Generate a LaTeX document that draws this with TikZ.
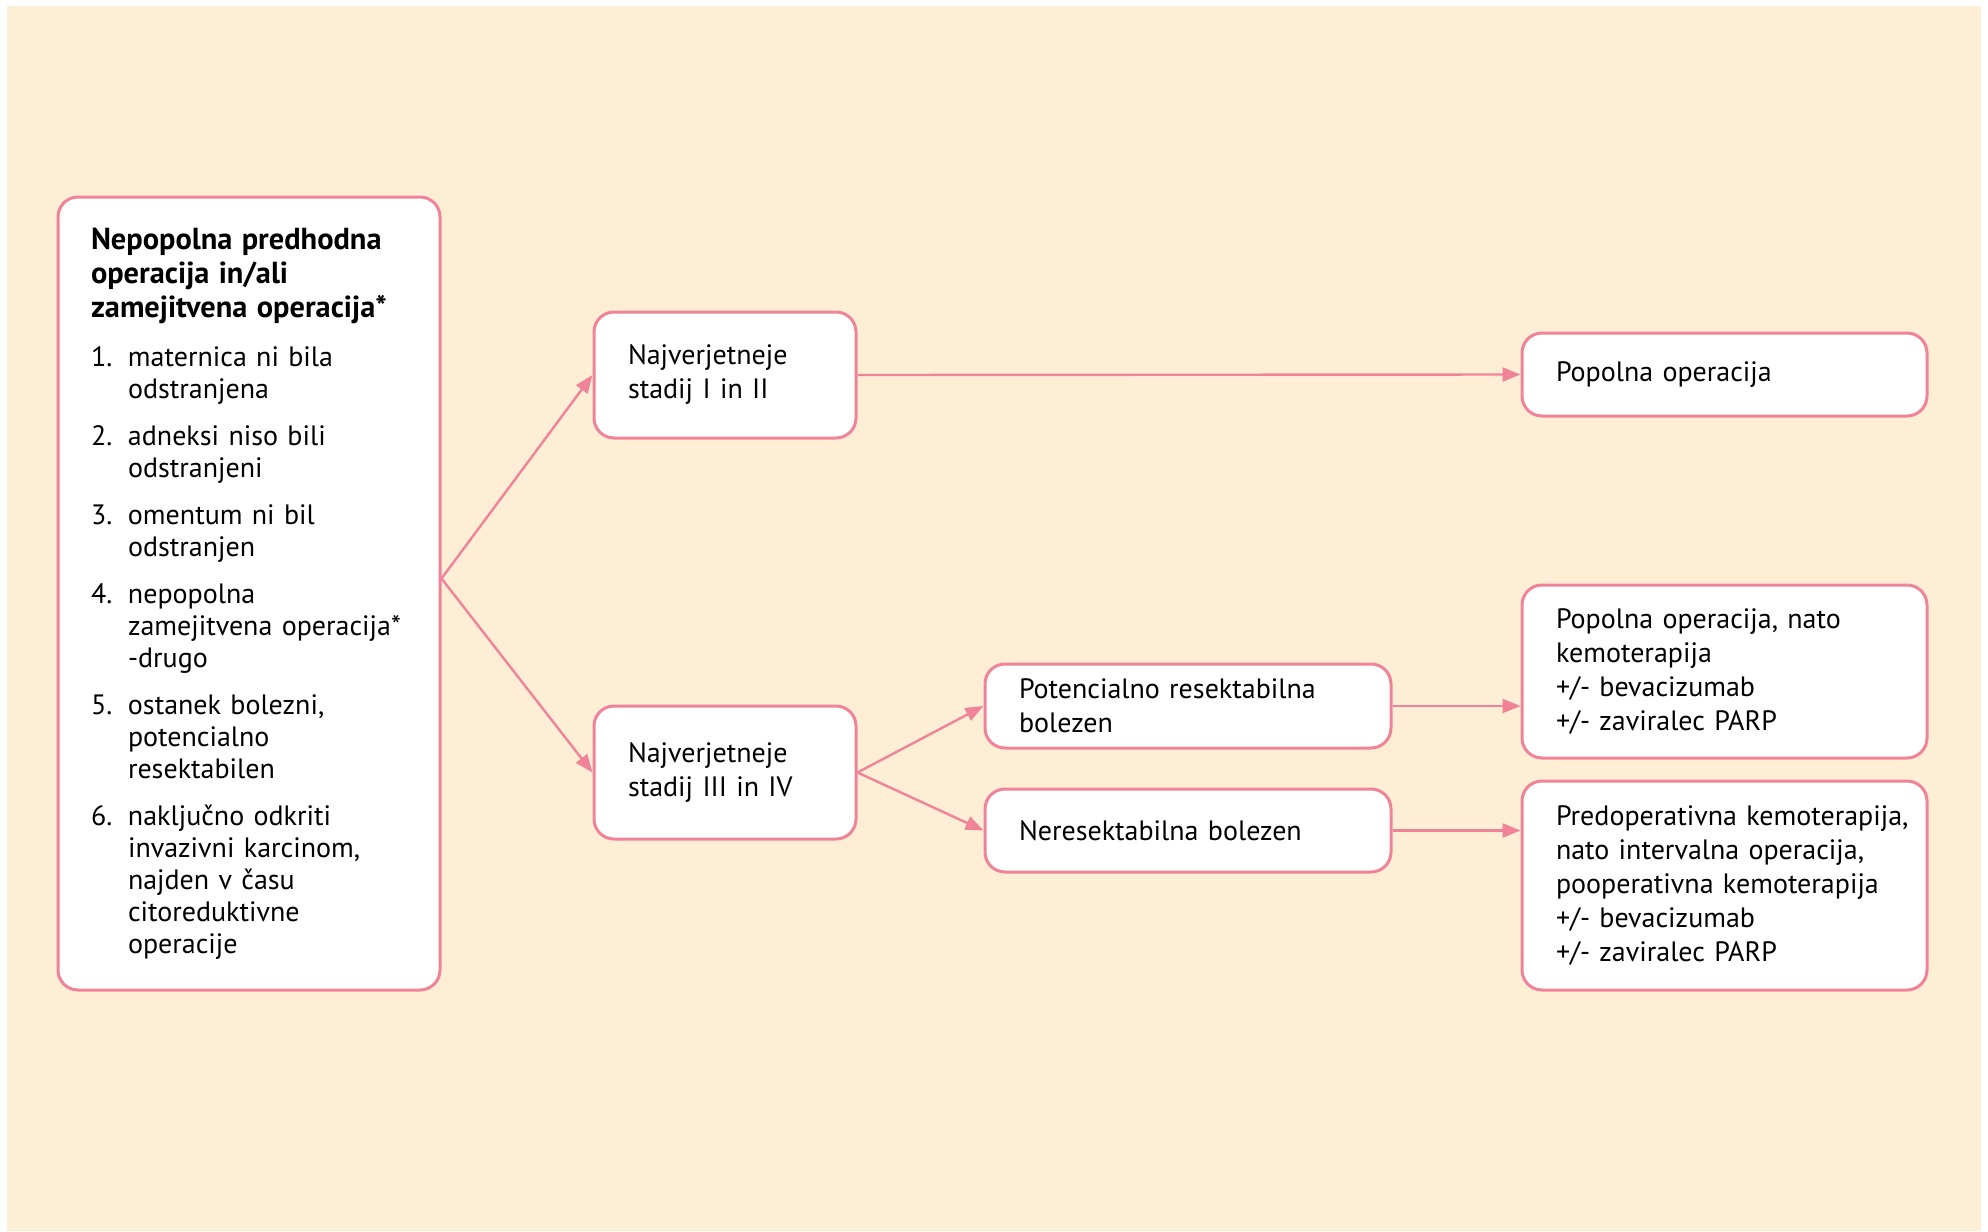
\documentclass[tikz,border=0pt]{standalone}
\usepackage{fontspec}
\setmainfont{PT Sans}
\usetikzlibrary{arrows.meta}
\definecolor{flowbg}{RGB}{255,238,214}
\definecolor{flowpink}{RGB}{240,131,152}

\begin{document}
\begin{tikzpicture}[x=0.5pt,y=-0.5pt,
  box/.style={draw=flowpink,line width=1.5pt,fill=white,rounded corners=10pt,
    align=left,inner xsep=17pt,inner ysep=0pt,
    font=\fontsize{14}{17}\selectfont},
  link/.style={flowpink,line width=1.2pt,-{Triangle[length=9pt,width=7pt]}}]
  \useasboundingbox (0,0) rectangle (1988,1232);
  \fill[flowbg] (7,6) rectangle (1981,1231);
  % left column
  \node[box,minimum width=191pt,minimum height=396.5pt,text width=158pt,
    inner xsep=16pt,font=\fontsize{14}{16}\selectfont] (src) at (249,593.5)
    {{\fontsize{15.2}{16}\selectfont\bfseries Nepopolna predhodna}\\[1pt]
     {\fontsize{15.2}{16}\selectfont\bfseries operacija in/ali}\\[1pt]
     {\fontsize{15.2}{16}\selectfont\bfseries \mbox{zamejitvena operacija*}}\\[8.5pt]
     \makebox[18.5pt][l]{1.}maternica ni bila\\
     \hspace*{18.5pt}odstranjena\\[7.5pt]
     \makebox[18.5pt][l]{2.}adneksi niso bili\\
     \hspace*{18.5pt}odstranjeni\\[7.5pt]
     \makebox[18.5pt][l]{3.}omentum ni bil\\
     \hspace*{18.5pt}odstranjen\\[7.5pt]
     \makebox[18.5pt][l]{4.}nepopolna\\
     \hspace*{18.5pt}\mbox{zamejitvena operacija*}\\
     \hspace*{18.5pt}-drugo\\[7.5pt]
     \makebox[18.5pt][l]{5.}ostanek bolezni,\\
     \hspace*{18.5pt}potencialno\\
     \hspace*{18.5pt}resektabilen\\[7.5pt]
     \makebox[18.5pt][l]{6.}naključno odkriti\\
     \hspace*{18.5pt}invazivni karcinom,\\
     \hspace*{18.5pt}najden v času\\
     \hspace*{18.5pt}citoreduktivne\\
     \hspace*{18.5pt}operacije};
  % stages
  \node[box,minimum width=131pt,minimum height=63pt,text width=97pt] (stage12)
    at (725,375) {Najverjetneje\\stadij I in II};
  \node[box,minimum width=131pt,minimum height=66.5pt,text width=97pt] (stage34)
    at (725,772.5) {Najverjetneje\\stadij III in IV};
  % disease
  \node[box,minimum width=203pt,minimum height=42pt,text width=169pt] (resect)
    at (1188,706) {Potencialno resektabilna\\bolezen};
  \node[box,minimum width=203pt,minimum height=41.5pt,text width=169pt] (unres)
    at (1188,830.5) {Neresektabilna bolezen};
  % treatment
  \node[box,minimum width=202.5pt,minimum height=41.5pt,text width=168.5pt] (full)
    at (1724.5,374.5) {Popolna operacija};
  \node[box,minimum width=202.5pt,minimum height=86.5pt,text width=168.5pt] (fullchemo)
    at (1724.5,671.5) {Popolna operacija, nato\\kemoterapija\\+/- bevacizumab\\+/- zaviralec PARP};
  \node[box,minimum width=202.5pt,minimum height=104.5pt,text width=168.5pt] (neoadj)
    at (1724.5,885.5) {\mbox{Predoperativna kemoterapija,}\\nato intervalna operacija,\\\mbox{pooperativna kemoterapija}\\+/- bevacizumab\\+/- zaviralec PARP};
  % connectors
  \coordinate (fork) at ([yshift=7.5pt]src.east);
  \draw[link] (fork) -- (stage12.west);
  \draw[link] (fork) -- (stage34.west);
  \draw[link] (stage12.east) -- (full.west);
  \draw[link] (stage34.east) -- (resect.west);
  \draw[link] (stage34.east) -- (unres.west);
  \draw[link] (resect.east) -- (resect.east -| fullchemo.west);
  \draw[link] (unres.east) -- (unres.east -| neoadj.west);
\end{tikzpicture}
\end{document}
